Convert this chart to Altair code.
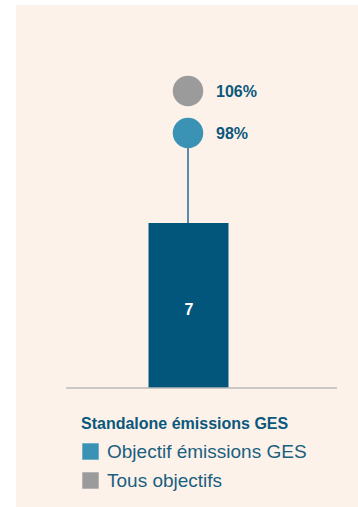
import altair as alt
import pandas as pd

# ---- data ----
groups = ["Standalone"]
bar_values = [7]
series = ["Tous objectifs", "Objectif émissions GES"]
pct_values = [106, 98]
pct_labels = ["106%", "98%"]
stem_from = [98]
stem_to = [60]
legend_order = ["Objectif émissions GES", "Tous objectifs"]
legend_colors = ["#3a93b5", "#9b9b9c"]

BAR_DOMAIN = [-5.048, 16.249]
PCT_DOMAIN = [26.762, 122.381]

FONT = "Liberation Sans"
BEIGE = "#fdf2ea"
DARK = "#0b587c"

bar_df = pd.DataFrame({"group": groups, "value": bar_values})
pct_df = pd.DataFrame({"group": groups * len(series), "series": series,
                       "pct": pct_values, "label": pct_labels})
stem_df = pd.DataFrame({"group": groups, "y": stem_from, "y2": stem_to})

x_enc = alt.X("group:N", axis=None, scale=alt.Scale(paddingInner=0, paddingOuter=0))

stem = alt.Chart(stem_df).mark_rule(color="#5a8cab", strokeWidth=2, xOffset=1).encode(
    x=x_enc,
    y=alt.Y("y:Q", axis=None, scale=alt.Scale(domain=PCT_DOMAIN, nice=False, zero=False)),
    y2="y2:Q",
)

bar = alt.Chart(bar_df).mark_bar(size=80, color="#02567c", xOffset=1.5).encode(
    x=x_enc,
    y=alt.Y("value:Q", axis=None, scale=alt.Scale(domain=BAR_DOMAIN, nice=False, zero=False)),
    y2=alt.datum(0),
)

bar_text = alt.Chart(bar_df).mark_text(
    color="white", fontWeight="bold", fontSize=16, font=FONT, baseline="middle", dy=4, dx=2
).transform_calculate(mid="datum.value / 2").encode(
    x=x_enc,
    y=alt.Y("mid:Q", axis=None, scale=alt.Scale(domain=BAR_DOMAIN, nice=False, zero=False)),
    text=alt.Text("value:Q"),
)

baseline = alt.Chart(bar_df).mark_rule(color="#b9b9b9", strokeWidth=1.5).encode(
    x=alt.value(50), x2=alt.value(321),
    y=alt.Y("zero:Q", axis=None, scale=alt.Scale(domain=BAR_DOMAIN, nice=False, zero=False)),
).transform_calculate(zero="0")

circles = alt.Chart(pct_df).mark_circle(size=930, opacity=1, xOffset=1).encode(
    x=x_enc,
    y=alt.Y("pct:Q", axis=None, scale=alt.Scale(domain=PCT_DOMAIN, nice=False, zero=False)),
    color=alt.Color(
        "series:N",
        scale=alt.Scale(domain=legend_order, range=legend_colors),
        legend=alt.Legend(
            title="Standalone émissions GES",
            orient="none", legendX=65, legendY=411,
            symbolType="square", symbolSize=270, symbolStrokeWidth=0,
            symbolOpacity=1,
            titleFont=FONT, titleFontSize=16, titleFontWeight="bold", titleColor=DARK,
            titlePadding=10, titleLimit=400,
            labelFont=FONT, labelFontSize=19, labelColor="#19607f", labelOffset=7,
            labelLimit=400, rowPadding=9,
        ),
    ),
)

pct_text = alt.Chart(pct_df).mark_text(
    color=DARK, fontWeight="bold", fontSize=16, font=FONT, align="left",
    baseline="middle", dx=29, dy=1
).encode(
    x=x_enc,
    y=alt.Y("pct:Q", axis=None, scale=alt.Scale(domain=PCT_DOMAIN, nice=False, zero=False)),
    text="label:N",
)

chart = alt.layer(stem, bar, bar_text, baseline, circles, pct_text).resolve_scale(
    y="independent"
).properties(
    width=342, height=502,
    padding={"left": 16, "top": 5, "right": 0, "bottom": 0},
    autosize=alt.AutoSizeParams(type="none"),
    background="white",
).configure_view(stroke=None, fill=BEIGE)

chart.save("out.html", embed_options={"renderer": "svg", "actions": False})
